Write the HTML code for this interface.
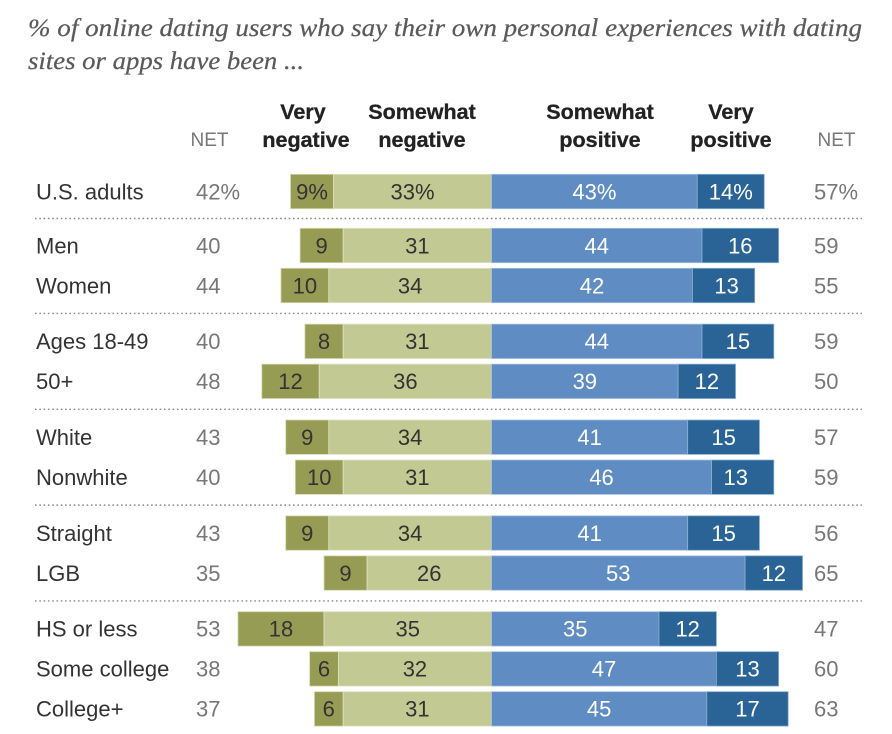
<!DOCTYPE html>
<html>
<head>
<meta charset="utf-8">
<style>
html,body{margin:0;padding:0;background:#fff;width:892px;height:734px;overflow:hidden}
svg{display:block}
text{font-family:"Liberation Sans",sans-serif}
</style>
</head>
<body>
<svg id="chart" width="892" height="734" viewBox="0 0 892 734" xmlns="http://www.w3.org/2000/svg">
  <text x="28" y="36" font-size="25" font-style="italic" fill="#5a5a5a" stroke="#5a5a5a" stroke-width="0.25" style="font-family:'Liberation Serif',serif" textLength="834" lengthAdjust="spacingAndGlyphs">% of online dating users who say their own personal experiences with dating</text>
  <text x="28" y="69" font-size="25" font-style="italic" fill="#5a5a5a" stroke="#5a5a5a" stroke-width="0.25" style="font-family:'Liberation Serif',serif" textLength="276" lengthAdjust="spacingAndGlyphs">sites or apps have been ...</text>
  <text x="209.5" y="146" font-size="19" fill="#777" text-anchor="middle">NET</text>
  <text x="836.5" y="146" font-size="19" fill="#777" text-anchor="middle">NET</text>
  <g font-size="21.5" font-weight="bold" fill="#222" stroke="#222" stroke-width="0.3" text-anchor="middle">
    <text x="303" y="119">Very</text><text x="306" y="147">negative</text>
  </g>
  <g font-size="21.5" font-weight="bold" fill="#222" stroke="#222" stroke-width="0.3" text-anchor="middle">
    <text x="422" y="119">Somewhat</text><text x="422" y="147">negative</text>
  </g>
  <g font-size="21.5" font-weight="bold" fill="#222" stroke="#222" stroke-width="0.3" text-anchor="middle">
    <text x="600" y="119">Somewhat</text><text x="600" y="147">positive</text>
  </g>
  <g font-size="21.5" font-weight="bold" fill="#222" stroke="#222" stroke-width="0.3" text-anchor="middle">
    <text x="731" y="119">Very</text><text x="731" y="147">positive</text>
  </g>
  <g id="separators"></g>
  <g id="rows"></g>
</svg>
<script>
const categories = ['U.S. adults','Men','Women','Ages 18-49','50+','White','Nonwhite','Straight','LGB','HS or less','Some college','College+'];
const veryNegative = [9,9,10,8,12,9,10,9,9,18,6,6];
const somewhatNegative = [33,31,34,31,36,34,31,34,26,35,32,31];
const somewhatPositive = [43,44,42,44,39,41,46,41,53,35,47,45];
const veryPositive = [14,16,13,15,12,15,13,15,12,12,13,17];
const netNegative = [42,40,44,40,48,43,40,43,35,53,38,37];
const netPositive = [57,59,55,59,50,57,59,56,65,47,60,63];
const groupSizes = [1,2,2,2,2,3];

const NS = 'http://www.w3.org/2000/svg';
const ZERO = 491.5, UNIT = 4.785, BAR_H = 34.4, ROW_GAP = 40, FIRST_TOP = 174.3;
const FIRST_GROUP_GAP = 14, GROUP_GAP = 15.85;
const xScale = function (v) { return ZERO + v * UNIT; };
const rowsG = document.getElementById('rows');
const sepG = document.getElementById('separators');

function slug(s) { return s.toLowerCase().replace(/[^a-z0-9]+/g, '-').replace(/^-|-$/g, ''); }

function addRect(parent, x0, x1, y, fill, edge) {
  const r = document.createElementNS(NS, 'rect');
  r.setAttribute('x', x0);
  r.setAttribute('y', y);
  r.setAttribute('width', x1 - x0);
  r.setAttribute('height', BAR_H);
  r.setAttribute('fill', fill);
  r.setAttribute('stroke', edge);
  r.setAttribute('stroke-width', '0.8');
  parent.appendChild(r);
  return r;
}

function addText(parent, str, x, y, fill, anchor, size) {
  const t = document.createElementNS(NS, 'text');
  t.setAttribute('x', x);
  t.setAttribute('y', y);
  t.setAttribute('fill', fill);
  t.setAttribute('text-anchor', anchor);
  t.setAttribute('font-size', size);
  t.textContent = str;
  parent.appendChild(t);
  return t;
}

let rowIndex = 0;
let rowTop = FIRST_TOP;
groupSizes.forEach(function (size, g) {
  for (let k = 0; k < size; k++) {
    const i = rowIndex;
    const pct = i === 0 ? '%' : '';
    const key = slug(categories[i]);
    const row = document.createElementNS(NS, 'g');
    
    
    rowsG.appendChild(row);
    const textY = rowTop + 25;

    const label = addText(row, categories[i], 36, textY, '#333', 'start', 22);
    
    

    const nn = addText(row, netNegative[i] + pct, 196, textY, '#777', 'start', 22);
    
    

    const np = addText(row, netPositive[i] + pct, 814, textY, '#777', 'start', 22);
    
    

    const a = xScale(-(somewhatNegative[i] + veryNegative[i]));
    const b = xScale(-somewhatNegative[i]);
    const c = xScale(0);
    const d = xScale(somewhatPositive[i]);
    const e = xScale(somewhatPositive[i] + veryPositive[i]);

    const r1 = addRect(row, a, b, rowTop, '#979c55', '#d6d8b0');
    
    
    const r2 = addRect(row, b, c, rowTop, '#c3c992', '#e0e3c4');
    
    
    const r3 = addRect(row, c, d, rowTop, '#5f8cc3', '#a6c2e2');
    
    
    const r4 = addRect(row, d, e, rowTop, '#2a6496', '#84aed0');
    
    

    // The source nudges a couple of labels off-centre inside their segments.
    let vpShift = 0;
    if (categories[i] === 'Nonwhite') vpShift = -7;
    if (categories[i] === 'Women') vpShift = 3;

    const v1 = addText(row, veryNegative[i] + pct, (a + b) / 2, textY, '#333', 'middle', 22);
    
    
    const v2 = addText(row, somewhatNegative[i] + pct, (b + c) / 2, textY, '#333', 'middle', 22);
    
    
    const v3 = addText(row, somewhatPositive[i] + pct, (c + d) / 2, textY, '#fff', 'middle', 22);
    
    
    const v4 = addText(row, veryPositive[i] + pct, (d + e) / 2 + vpShift, textY, '#fff', 'middle', 22);
    
    

    rowIndex++;
    rowTop += ROW_GAP;
  }
  if (g < groupSizes.length - 1) {
    const gap = g === 0 ? FIRST_GROUP_GAP : GROUP_GAP;
    const barBottom = rowTop - ROW_GAP + BAR_H;
    const sepY = barBottom + (ROW_GAP - BAR_H + gap) / 2;
    const line = document.createElementNS(NS, 'line');
    
    
    line.setAttribute('x1', 35);
    line.setAttribute('x2', 862);
    line.setAttribute('y1', sepY);
    line.setAttribute('y2', sepY);
    line.setAttribute('stroke', '#888');
    line.setAttribute('stroke-width', '1.4');
    line.setAttribute('stroke-dasharray', '1.6 2.7');
    sepG.appendChild(line);
    rowTop += gap;
  }
});
</script>
</body>
</html>
